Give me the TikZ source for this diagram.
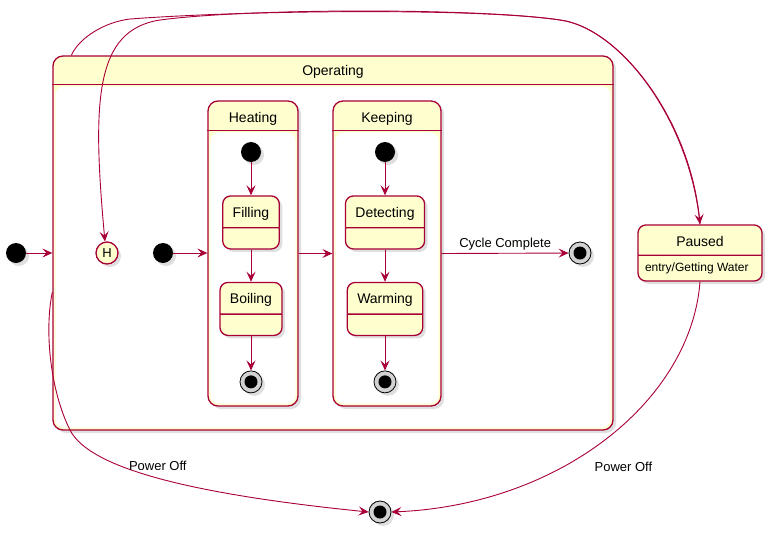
\documentclass[tikz,border=0pt]{standalone}
\usepackage{fontspec}
\setmainfont{Liberation Sans}
\usetikzlibrary{positioning, arrows.meta, shapes.multipart, shadows}
\definecolor{umlred}{HTML}{A80036}
\definecolor{umlyellow}{HTML}{FEFECE}
\tikzstyle{umlshadow} = [drop shadow={shadow xshift=3pt, shadow yshift=-3pt, opacity=0.25}]
\tikzstyle{composite} = [rectangle, rounded corners=10pt, draw=umlred, fill=umlyellow, line width=1.3pt, inner sep=0pt, umlshadow]
\tikzstyle{boxtitle} = [font=\fontsize{14}{16}\selectfont, anchor=center, yshift=-19pt]
\tikzstyle{divider} = [draw=umlred, line width=1.3pt]
\tikzstyle{simple} = [rectangle split, rectangle split parts=2, rounded corners=8pt, draw=umlred, fill=umlyellow, line width=1.3pt, inner xsep=10pt, inner ysep=7pt, rectangle split empty part height=6pt, font=\fontsize{14}{16}\selectfont, umlshadow]
\tikzstyle{paused} = [rectangle split, rectangle split parts=2, rectangle split part align={center,left}, rounded corners=8pt, draw=umlred, fill=umlyellow, line width=1.3pt, inner xsep=7pt, inner ysep=6pt, minimum width=124pt, font=\fontsize{14}{16}\selectfont, umlshadow]
\tikzstyle{initial} = [circle, fill=black, minimum size=20pt, inner sep=0pt, umlshadow]
\tikzstyle{final} = [circle, draw=black, fill=gray!35, line width=0.8pt, minimum size=22pt, inner sep=0pt, path picture={\fill[black] (path picture bounding box.center) circle (6.5pt);}, umlshadow]
\tikzstyle{history} = [circle, draw=umlred, fill=umlyellow, line width=1.3pt, minimum size=22pt, inner sep=0pt, font=\fontsize{13}{15}\selectfont, umlshadow]
\tikzstyle{tlabel} = [font=\fontsize{13}{15}\selectfont, text=black]
\tikzstyle{arrow} = [umlred, line width=0.9pt, -{Stealth[length=10pt, width=9pt, inset=4pt]}]

\begin{document}
\begin{tikzpicture}[x=1pt, y=-1pt]
  \useasboundingbox (0,0) rectangle (774,533);
  \node (1) [initial] at (16,253) {};
  \node (2) [composite, minimum width=560pt, minimum height=374pt, label={[boxtitle, yshift=2pt]north:Operating}] at (333,243) {};
  \fill [white, rounded corners=9pt] ([shift={(3pt,-31pt)}]2.north west) rectangle ([shift={(-3pt,3pt)}]2.south east);
  \draw [divider] ([yshift=-29pt]2.north west) -- ([yshift=-29pt]2.north east);
  \node (3) [history] at (107,253) {H};
  \node (4) [initial] at (163,253) {};
  % Heating
  \node (5) [composite, minimum width=90pt, minimum height=305pt, label={[boxtitle]north:Heating}] at (253,253.5) {};
  \fill [white, rounded corners=9pt] ([shift={(3pt,-32pt)}]5.north west) rectangle ([shift={(-3pt,3pt)}]5.south east);
  \draw [divider] ([yshift=-30pt]5.north west) -- ([yshift=-30pt]5.north east);
  \node (6) [initial] at (251,152) {};
  \node (7) [simple, below of=6, yshift=-42pt] {\rule[-1.5pt]{0pt}{15pt}Filling\nodepart{two}};
  \node (8) [simple, below of=7, yshift=-58pt] {\rule[-1.5pt]{0pt}{15pt}Boiling\nodepart{two}};
  \node (9) [final, below of=8, yshift=-44.5pt] {};
  % Keeping
  \node (10) [composite, minimum width=108pt, minimum height=305pt, label={[boxtitle]north:Keeping}] at (387,253.5) {};
  \fill [white, rounded corners=9pt] ([shift={(3pt,-32pt)}]10.north west) rectangle ([shift={(-3pt,3pt)}]10.south east);
  \draw [divider] ([yshift=-30pt]10.north west) -- ([yshift=-30pt]10.north east);
  \node (11) [initial] at (385,152) {};
  \node (12) [simple, below of=11, yshift=-42pt] {\rule[-1.5pt]{0pt}{15pt}Detecting\nodepart{two}};
  \node (13) [simple, below of=12, yshift=-58pt] {\rule[-1.5pt]{0pt}{15pt}Warming\nodepart{two}};
  \node (14) [final, below of=13, yshift=-44.5pt] {};
  \node (15) [final] at (580,253) {};
  \node (16) [paused] at (700,253)
    {\rule[-2pt]{0pt}{17pt}Paused\nodepart{two}\fontsize{12}{14}\selectfont\rule[-1.5pt]{0pt}{11.5pt}entry/Getting Water};
  \node (17) [final] at (380,512) {};

  \draw [arrow] (1) -- (1 -| 2.west);
  \draw [arrow] (4) -- (4 -| 5.west);
  \draw [arrow] (6) -- (7);
  \draw [arrow] (7) -- (8);
  \draw [arrow] (8) -- (9);
  \draw [arrow] (11) -- (12);
  \draw [arrow] (12) -- (13);
  \draw [arrow] (13) -- (14);
  \draw [arrow] (5.east) -- (10.west);
  \draw [arrow] (10.east) -- node[tlabel, above, yshift=-1pt] {Cycle Complete} (15);
  \draw [arrow] ([xshift=19pt]2.north west) .. controls +(8,-18) and +(-25,3) .. (130,19)
    .. controls (250,10) and (480,8) .. (560,20) .. controls (620,28) and (690,120) .. (16.north);
  \draw [arrow] (16.north) .. controls (690,120) and (620,28) .. (560,20)
    .. controls (480,8) and (250,8) .. (160,20) .. controls (95,30) and (92,100) .. (3.100);
  \draw [arrow] ([yshift=-49pt]2.west) .. controls +(-8,38) and +(-20,-40) .. (70,430)
    .. controls (90,470) and (200,495) .. node[tlabel, pos=0.37, anchor=south west, inner sep=1pt, yshift=-3pt] {Power Off} (17.west);
  \draw [arrow] (16.south) .. controls +(-9,119) and +(169,-7) .. node[tlabel, pos=0.62, right=28pt] {Power Off} (17.east);
\end{tikzpicture}
\end{document}
